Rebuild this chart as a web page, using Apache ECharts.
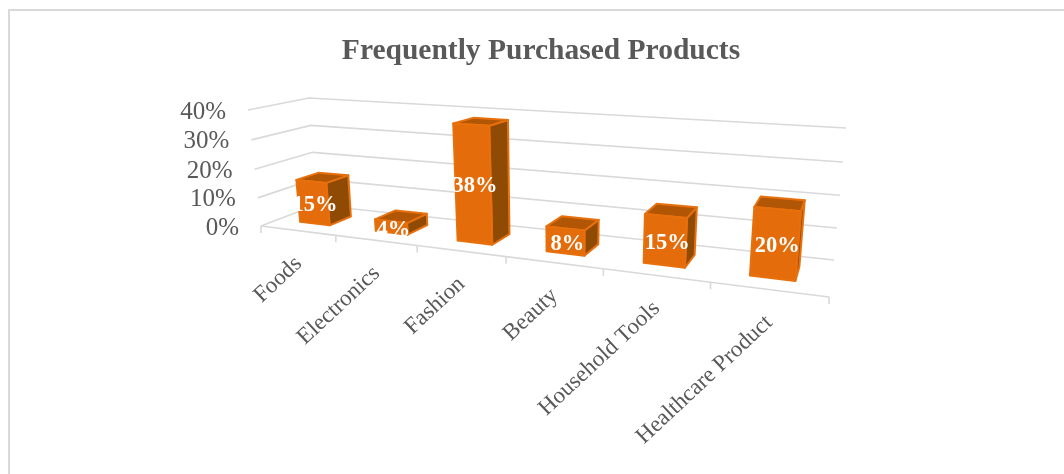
<!DOCTYPE html>
<html><head><meta charset="utf-8">
<style>html,body{margin:0;padding:0;background:#fff}#c{width:1064px;height:474px}</style>
<script src="https://cdn.jsdelivr.net/npm/echarts@6/dist/echarts.min.js"></script>
</head><body><div id="c"></div>
<script>
const categories = ['Foods','Electronics','Fashion','Beauty','Household Tools','Healthcare Product'];
const shares = [15,4,38,8,15,20];
const yTicks = [0,10,20,30,40];

// Perspective of the plot box: pixel corners of the front and back planes
const frontQuad = [[261,226],[829,297],[843,146],[248,110]];
const backQuad  = [[316,205],[834,260],[846,128],[309,98]];
const barHalfWidth = 0.2, barFrontDepth = 0.32, barBackDepth = 0.72;
const SERIF = '"Liberation Serif","Times New Roman",serif';
const TEXT = '#595959', GRID = '#d9d9d9';

function quadMap(q){
  const [[x0,y0],[x1,y1],[x2,y2],[x3,y3]] = q;
  const dx1=x1-x2,dx2=x3-x2,sx=x0-x1+x2-x3,dy1=y1-y2,dy2=y3-y2,sy=y0-y1+y2-y3;
  const d=dx1*dy2-dx2*dy1;
  const g=(sx*dy2-dx2*sy)/d,h=(dx1*sy-sx*dy1)/d;
  const a=x1-x0+g*x1,b=x3-x0+h*x3,c=x0,e=y1-y0+g*y1,f=y3-y0+h*y3,k=y0;
  return (s,t)=>{const w=g*s+h*t+1;return [(a*s+b*t+c)/w,(e*s+f*t+k)/w];};
}
const mapFront=quadMap(frontQuad), mapBack=quadMap(backQuad);
function warp(s,t,z){const p=mapFront(s,t),q=mapBack(s,t);return [p[0]+(q[0]-p[0])*z,p[1]+(q[1]-p[1])*z];}

// flat grid position from the axes -> warped pixel
function projector(params,api){
  const r=params.coordSys;
  return (cat,val,z)=>{
    const band=api.size([1,0])[0];
    const c=api.coord([0,val]);
    const fx=c[0]-band/2+band*cat;
    return warp((fx-r.x)/r.width,(r.y+r.height-c[1])/r.height,z);
  };
}
const n=categories.length;
const lineStyle={fill:null,stroke:GRID,lineWidth:1.6};

function renderWall(params,api){
  const P=projector(params,api), v=api.value(1);
  const a=P(0,v,0);
  return {type:'group',children:[
    {type:'polyline',shape:{points:[a,P(0,v,1),P(n,v,1)]},style:lineStyle},
    {type:'text',style:{text:v+'%',x:a[0]-22,y:a[1]+2,align:'right',verticalAlign:'middle',
      font:'25px '+SERIF,fill:TEXT}}
  ]};
}
function renderFloor(params,api){
  const P=projector(params,api), i=api.value(0);
  const kids=[];
  const a=P(i,0,0);
  kids.push({type:'line',shape:{x1:a[0],y1:a[1],x2:a[0],y2:a[1]+7},style:{stroke:GRID,lineWidth:1.6}});
  if(i<n){
    kids.push({type:'line',shape:{x1:a[0],y1:a[1],x2:P(i+1,0,0)[0],y2:P(i+1,0,0)[1]},style:{stroke:GRID,lineWidth:1.6}});
    const c=P(i+0.5,0,0);
    kids.push({type:'text',x:c[0]+1,y:c[1]+30,rotation:43*Math.PI/180,
      style:{text:categories[i],x:0,y:0,align:'right',verticalAlign:'middle',font:'23px '+SERIF,fill:TEXT}});
  }
  return {type:'group',children:kids};
}
function renderBar(params,api){
  const P=projector(params,api), i=api.value(0), v=api.value(1);
  const u0=i+0.5-barHalfWidth,u1=i+0.5+barHalfWidth,zf=barFrontDepth,zb=barBackDepth;
  const edge={stroke:'#e8700c',lineWidth:2,lineJoin:'round'};
  const poly=(pts,fill)=>({type:'polygon',shape:{points:pts},style:Object.assign({fill},edge)});
  const fb0=P(u0,0,zf),fb1=P(u1,0,zf),ft0=P(u0,v,zf),ft1=P(u1,v,zf);
  const bb1=P(u1,0,zb),bt0=P(u0,v,zb),bt1=P(u1,v,zb);
  const cx=(fb0[0]+fb1[0]+ft0[0]+ft1[0])/4, cy=(fb0[1]+fb1[1]+ft0[1]+ft1[1])/4;
  return {type:'group',children:[
    poly([fb1,bb1,bt1,ft1],'#8f4a04'),
    poly([ft0,ft1,bt1,bt0],'#b05605'),
    poly([fb0,fb1,ft1,ft0],'#e46c0a'),
    {type:'text',style:{text:v+'%',x:cx+2,y:cy+3,align:'center',verticalAlign:'middle',
      font:'bold 22.5px '+SERIF,fill:'#fff'}}
  ]};
}
const chart=echarts.init(document.getElementById('c'),null,{renderer:'canvas'});
chart.setOption({
  animation:false,
  backgroundColor:'#fff',
  title:{text:'Frequently Purchased Products',left:536,top:31,textAlign:'center',
    textStyle:{fontFamily:SERIF,fontWeight:'bold',fontSize:29.5,color:TEXT}},
  grid:{left:200,right:200,top:100,bottom:100},
  xAxis:{type:'category',data:categories,show:false},
  yAxis:{type:'value',min:0,max:40,interval:10,show:false},
  graphic:[
    {type:'polyline',silent:true,shape:{points:[[9,474],[9,10],[1064,10]]},style:{fill:null,stroke:GRID,lineWidth:2}}
  ],
  series:[
    {type:'custom',renderItem:renderWall,clip:false,silent:true,encode:{x:0,y:1},z:1,
      data:yTicks.map(v=>[0,v])},
    {type:'custom',renderItem:renderFloor,clip:false,silent:true,encode:{x:0,y:1},z:2,
      data:Array.from({length:n+1},(_,i)=>[i,0])},
    {type:'custom',renderItem:renderBar,clip:false,silent:true,encode:{x:0,y:1},z:3,
      data:shares.map((v,i)=>[i,v])}
  ]
});
</script></body></html>
